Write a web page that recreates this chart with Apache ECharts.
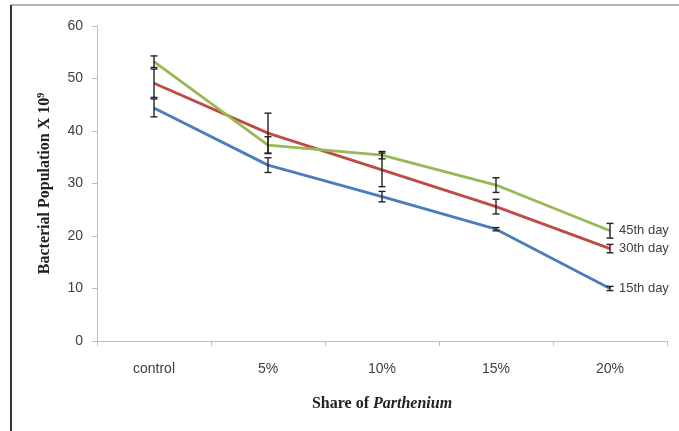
<!DOCTYPE html>
<html>
<head>
<meta charset="utf-8">
<script src="https://cdn.jsdelivr.net/npm/echarts@6/dist/echarts.min.js"></script>
<style>html,body{margin:0;padding:0;background:#fff}#c{width:679px;height:431px}</style>
</head>
<body>
<div id="c"></div>
<script>
var categories = ['control', '5%', '10%', '15%', '20%'];
var yTicks = [0, 10, 20, 30, 40, 50, 60];
var day15 = [44.4, 33.5, 27.5, 21.3, 10.0];
var day30 = [49.1, 39.6, 32.6, 25.6, 17.6];
var day45 = [53.2, 37.3, 35.4, 29.7, 21.0];
var err15 = [1.7, 1.4, 1.0, 0.3, 0.4];
var err30 = [2.7, 3.8, 3.2, 1.4, 0.8];
var err45 = [1.1, 1.6, 0.7, 1.4, 1.4];
var seriesNames = ['15th day', '30th day', '45th day'];
var colors = ['#4a7ebb', '#be4b48', '#98b954'];

var chart = echarts.init(document.getElementById('c'), null, {renderer: 'canvas'});

function errData(vals, errs) {
  return vals.map(function (v, i) { return [i, v - errs[i], v + errs[i]]; });
}
function errSeries(vals, errs) {
  return {
    type: 'custom', z: 5,
    data: errData(vals, errs),
    renderItem: function (params, api) {
      var lo = api.coord([api.value(0), api.value(1)]);
      var hi = api.coord([api.value(0), api.value(2)]);
      var w = 3.5;
      var st = {stroke: '#222', lineWidth: 1.4};
      return {type: 'group', children: [
        {type: 'line', shape: {x1: lo[0], y1: lo[1], x2: hi[0], y2: hi[1]}, style: st},
        {type: 'line', shape: {x1: lo[0] - w, y1: lo[1], x2: lo[0] + w, y2: lo[1]}, style: st},
        {type: 'line', shape: {x1: hi[0] - w, y1: hi[1], x2: hi[0] + w, y2: hi[1]}, style: st}
      ]};
    }
  };
}
function lineSeries(name, vals, color) {
  return {
    type: 'line', name: name, data: vals,
    symbol: 'none', z: 3,
    lineStyle: {color: color, width: 2.8},
    itemStyle: {color: color},
    endLabel: {show: true, formatter: '{a}', color: '#404040', fontSize: 13,
      fontFamily: 'Liberation Sans', distance: 9}
  };
}

var yMin = yTicks[0], yMax = yTicks[yTicks.length - 1];

chart.setOption({
  animation: false,
  backgroundColor: '#fff',
  graphic: [
    {type: 'line', shape: {x1: 11, y1: 5, x2: 679, y2: 5}, style: {stroke: '#9a9a9a', lineWidth: 1.5}},
    {type: 'line', shape: {x1: 11, y1: 5, x2: 11, y2: 431}, style: {stroke: '#333', lineWidth: 2}}
  ],
  grid: {left: 97, right: 12, top: 26, bottom: 90},
  xAxis: {
    type: 'category', data: categories, boundaryGap: true,
    axisLine: {lineStyle: {color: '#bfbfbf', width: 1}},
    axisTick: {show: true, length: 5, lineStyle: {color: '#bfbfbf'}},
    axisLabel: {color: '#404040', fontSize: 14, fontFamily: 'Liberation Sans', margin: 21},
    name: '{a|Share of }{b|Parthenium}', nameLocation: 'middle', nameGap: 55,
    nameTextStyle: {rich: {
      a: {fontFamily: 'Liberation Serif', fontWeight: 'bold', fontSize: 16, color: '#222'},
      b: {fontFamily: 'Liberation Serif', fontWeight: 'bold', fontStyle: 'italic', fontSize: 16, color: '#222'}
    }}
  },
  yAxis: {
    type: 'value', min: yMin, max: yMax, interval: 10,
    axisLine: {show: true, lineStyle: {color: '#bfbfbf', width: 1}},
    axisTick: {show: true, length: 5, lineStyle: {color: '#bfbfbf'}},
    splitLine: {show: false},
    axisLabel: {color: '#404040', fontSize: 14, fontFamily: 'Liberation Sans', margin: 14},
    name: '{a|Bacterial Population X 10}{s|9}', nameLocation: 'middle', nameGap: 44, nameRotate: 90,
    nameTextStyle: {rich: {
      a: {fontFamily: 'Liberation Serif', fontWeight: 'bold', fontSize: 16, color: '#222'},
      s: {fontFamily: 'Liberation Serif', fontWeight: 'bold', fontSize: 10, color: '#222', verticalAlign: 'top', padding: [0, 0, 7, 0]}
    }}
  },
  series: [
    lineSeries(seriesNames[0], day15, colors[0]),
    lineSeries(seriesNames[1], day30, colors[1]),
    lineSeries(seriesNames[2], day45, colors[2]),
    errSeries(day15, err15),
    errSeries(day30, err30),
    errSeries(day45, err45)
  ]
});
</script>
</body>
</html>
